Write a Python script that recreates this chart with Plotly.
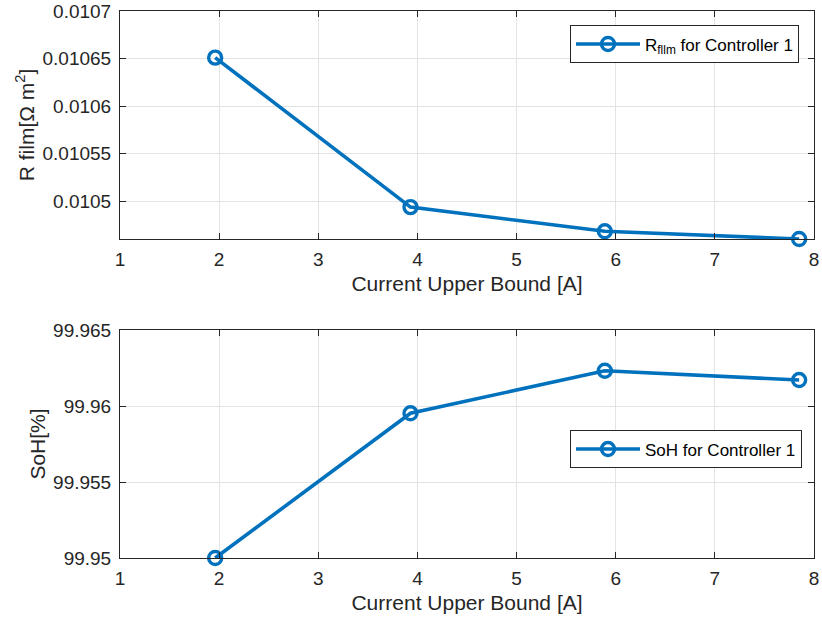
import plotly.graph_objects as go

# Current upper bound settings [A]
current_bound = [1.96, 3.93, 5.89, 7.85]

# Film resistance [Ohm m^2] and state of health [%] for Controller 1
r_film = [0.010651, 0.010494, 0.0104686, 0.0104605]
soh = [99.9500, 99.95952, 99.96232, 99.96171]

x_ticks = [1, 2, 3, 4, 5, 6, 7, 8]
r_ticks = [0.0105, 0.01055, 0.0106, 0.01065, 0.0107]
r_tick_text = ["0.0105", "0.01055", "0.0106", "0.01065", "0.0107"]
soh_ticks = [99.95, 99.955, 99.96, 99.965]
soh_tick_text = ["99.95", "99.955", "99.96", "99.965"]

BLUE = "#0072BD"
AXIS = "#262626"
GRID = "#e3e3e3"
FONT = "Liberation Sans, Arial, Helvetica, sans-serif"

fig = go.Figure()

fig.add_trace(go.Scatter(
    x=current_bound, y=r_film, mode="lines+markers",
    name="R<sub>fllm</sub> for Controller 1",
    line=dict(color=BLUE, width=3.6),
    marker=dict(symbol="circle-open", size=13, color=BLUE, line=dict(width=3.4, color=BLUE)),
    cliponaxis=False, xaxis="x", yaxis="y", legend="legend",
))

fig.add_trace(go.Scatter(
    x=current_bound, y=soh, mode="lines+markers",
    name="SoH for Controller 1",
    line=dict(color=BLUE, width=3.6),
    marker=dict(symbol="circle-open", size=13, color=BLUE, line=dict(width=3.4, color=BLUE)),
    cliponaxis=False, xaxis="x2", yaxis="y2", legend="legend2",
))

axis_common = dict(
    showline=True, linecolor=AXIS, linewidth=1, mirror="allticks",
    ticks="inside", ticklen=6, tickcolor=AXIS, tickwidth=1,
    showgrid=True, gridcolor=GRID, gridwidth=1, zeroline=False,
    automargin=False,
    tickfont=dict(family=FONT, size=19, color=AXIS),
)

x_common = dict(axis_common, range=[1, 8], tickvals=x_ticks, ticklabelstandoff=3,
                title=dict(text="Current Upper Bound [A]", standoff=7,
                           font=dict(family=FONT, size=21, color=AXIS)))

fig.update_layout(
    width=822, height=623,
    margin=dict(l=120, r=8, t=11, b=65),
    paper_bgcolor="white", plot_bgcolor="white",
    font=dict(family=FONT, color=AXIS),
    xaxis=dict(x_common, anchor="y", domain=[0, 1]),
    yaxis=dict(axis_common, anchor="x", domain=[0.5832, 1.0],
               range=[r_film[-1], 0.0107], tickvals=r_ticks, ticktext=r_tick_text,
               ticklabelstandoff=4,
               title=dict(text="R film[Ω m<sup>2</sup>]", standoff=2,
                          font=dict(family=FONT, size=21, color=AXIS))),
    xaxis2=dict(x_common, anchor="y2", domain=[0, 1]),
    yaxis2=dict(axis_common, anchor="x2", domain=[0.0, 0.4168],
                range=[99.95, 99.965], tickvals=soh_ticks, ticktext=soh_tick_text,
                ticklabelstandoff=4,
                title=dict(text="SoH[%]", standoff=1,
                           font=dict(family=FONT, size=21, color=AXIS))),
    legend=dict(x=0.9784, y=0.9736, xanchor="right", yanchor="top",
                bgcolor="white", bordercolor=AXIS, borderwidth=1,
                font=dict(family=FONT, size=17, color="black"), itemwidth=64),
    legend2=dict(x=0.9827, y=0.2331, xanchor="right", yanchor="top",
                 bgcolor="white", bordercolor=AXIS, borderwidth=1,
                 font=dict(family=FONT, size=17, color="black"), itemwidth=64),
    showlegend=True,
)

fig.write_html("out.html")
